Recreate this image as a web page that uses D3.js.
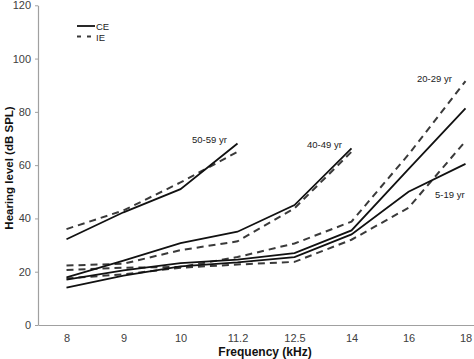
<!DOCTYPE html>
<html><head><meta charset="utf-8">
<script src="https://cdn.jsdelivr.net/npm/d3@7"></script>
<style>body{margin:0;background:#fff}svg{display:block;font-family:"Liberation Sans",Arial,sans-serif}</style>
</head><body><svg id="c" width="474" height="359"></svg>
<script>
const frequencies = ["8","9","10","11.2","12.5","14","16","18"];
const yTicks = [0,20,40,60,80,100,120];
// values per age group; null = not measured
const ce_5_19  = [14, 18.5, 22, 23.5, 25.5, 34, 50, 60.5];
const ie_5_19  = [17.5, 19, 21.5, 22.7, 23.7, 32, 44, 69];
const ce_20_29 = [17, 20.5, 23.2, 24.5, 27, 35.5, 58.5, 81.3];
const ie_20_29 = [20.6, 21.5, 21.8, 25.5, 30.6, 38.8, 64, 91.5];
const ce_40_49 = [17.9, 24.2, 30.7, 35, 45, 66.3, null, null];
const ie_40_49 = [22.3, 23, 28.1, 31.4, 43.8, 65, null, null];
const ce_50_59 = [32.2, 42.3, 51, 68.1, null, null, null, null];
const ie_50_59 = [36, 43, 53.5, 65, null, null, null, null];
const groupLabels = ["5-19 yr","20-29 yr","40-49 yr","50-59 yr"];
const legendLabels = ["CE","IE"];

const svg = d3.select("#c");
const x = d3.scalePoint().domain(frequencies).range([38, 494]).padding(0.5);
const y = d3.scaleLinear().domain([0,120]).range([325, 5.3]);

// axes
const gx = svg.append("g").attr("transform","translate(0,325)")
  .call(d3.axisBottom(x).tickSize(0).tickPadding(9));
gx.select(".domain").attr("stroke","#a0a0a0").attr("stroke-width",1.2);
gx.selectAll("text").attr("font-size",11).attr("fill","#404040").attr("font-family","Liberation Sans, Arial, sans-serif");

const gy = svg.append("g").attr("transform","translate(38,0)")
  .call(d3.axisLeft(y).tickValues(yTicks).tickSize(3).tickSizeOuter(0).tickPadding(4));
gy.select(".domain").attr("stroke","#a0a0a0").attr("stroke-width",1.2);
gy.selectAll(".tick line").attr("stroke","#a0a0a0");
gy.selectAll("text").attr("font-size",11).attr("fill","#404040").attr("font-family","Liberation Sans, Arial, sans-serif");

// titles
svg.append("text").attr("x",265).attr("y",356).attr("text-anchor","middle")
  .attr("font-size",12).attr("font-weight","bold").attr("fill","#111").text("Frequency (kHz)");
svg.append("text").attr("transform","translate(13,168) rotate(-90)").attr("text-anchor","middle")
  .attr("font-size",11.5).attr("font-weight","bold").attr("fill","#111").text("Hearing level (dB SPL)");

const ceSeries = [ce_5_19, ce_20_29, ce_40_49, ce_50_59];
const ieSeries = [ie_5_19, ie_20_29, ie_40_49, ie_50_59];

function vals(arr){ return arr.map((v,i)=>({v,i})).filter(o=>o.v!=null); }
const lineFn = d3.line().x(o => x(frequencies[o.i])).y(o => y(o.v));

ieSeries.forEach(s => svg.append("path").attr("d", lineFn(vals(s)))
  .attr("fill","none").attr("stroke","#3a3a3a").attr("stroke-width",2).attr("stroke-dasharray","7,5"));
ceSeries.forEach(s => svg.append("path").attr("d", lineFn(vals(s)))
  .attr("fill","none").attr("stroke","#111").attr("stroke-width",1.8));

// group labels
const labelPos = [[435,198],[417,82],[307,148],[192,143]];
groupLabels.forEach((t,i) => svg.append("text").attr("x",labelPos[i][0]).attr("y",labelPos[i][1])
  .attr("font-size",9.5).attr("fill","#222").text(t));

// legend
svg.append("line").attr("x1",77).attr("x2",95).attr("y1",26).attr("y2",26).attr("stroke","#111").attr("stroke-width",1.8);
svg.append("line").attr("x1",77).attr("x2",95).attr("y1",36.5).attr("y2",36.5).attr("stroke","#3a3a3a").attr("stroke-width",1.8).attr("stroke-dasharray","4,6");
svg.append("text").attr("x",96).attr("y",29.5).attr("font-size",9.5).attr("fill","#222").text(legendLabels[0]);
svg.append("text").attr("x",96).attr("y",40.5).attr("font-size",9.5).attr("fill","#222").text(legendLabels[1]);
</script></body></html>
